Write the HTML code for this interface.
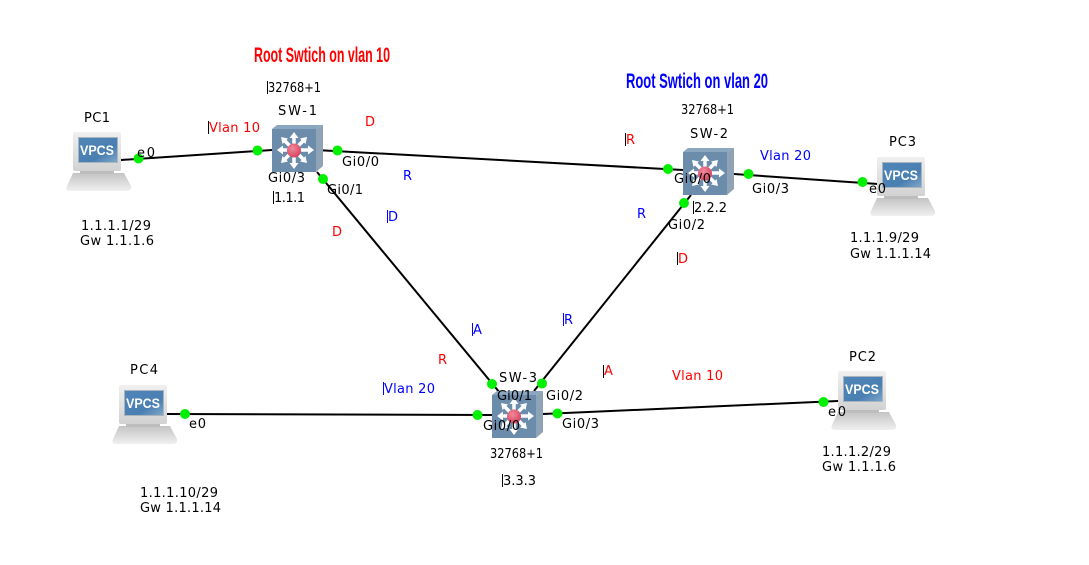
<!DOCTYPE html>
<html>
<head>
<meta charset="utf-8">
<style>
html,body{margin:0;padding:0;background:#fff;width:1089px;height:565px;overflow:hidden}
svg{display:block}
text{font-family:"DejaVu Sans",sans-serif;font-size:13px;fill:#000}
.r{fill:#f00}
.b{fill:#00f}
.t{font-family:"Liberation Sans",sans-serif;font-size:21px;font-weight:bold}
.v{font-family:"Liberation Sans",sans-serif;font-size:13.500px;font-weight:bold;fill:#fff}
.c{stroke:#000;stroke-width:1}
</style>
</head>
<body>
<svg width="1089" height="565" viewBox="0 0 1089 565" xmlns="http://www.w3.org/2000/svg">
<defs>
<linearGradient id="base" x1="0" y1="0" x2="0" y2="1"><stop offset="0" stop-color="#c4c4c4"/><stop offset="1" stop-color="#f0f0f0"/></linearGradient>
<linearGradient id="mon" x1="0" y1="0" x2="0" y2="1"><stop offset="0" stop-color="#f0f0f0"/><stop offset="1" stop-color="#d2d2d2"/></linearGradient>
<linearGradient id="scr" x1="0" y1="0" x2="1" y2="1"><stop offset="0" stop-color="#4f86b8"/><stop offset="0.65" stop-color="#4a7fb2"/><stop offset="1" stop-color="#7ea6c8"/></linearGradient>
<radialGradient id="ball" cx="0.4" cy="0.35" r="0.7"><stop offset="0" stop-color="#f08a9c"/><stop offset="1" stop-color="#d63f5c"/></radialGradient>
<g id="pc">
<path d="M73 173H124L131 186Q132 191 127 191H70Q65 191 67 186Z" fill="url(#base)"/>
<rect x="80" y="170" width="34" height="4" fill="#bdbdbd"/>
<rect x="73" y="132" width="48" height="39" rx="2" fill="url(#mon)"/>
<rect x="78" y="137" width="40" height="26" fill="#a9b4bf"/>
<rect x="79" y="138" width="38" height="24" fill="url(#scr)"/>
</g>
<g id="sw">
<path d="M0 4L5 0H51L44 4Z" fill="#8ba6c0"/>
<path d="M44 4L51 0V41L44 47Z" fill="#8fa3b6"/>
<rect x="0" y="4" width="44" height="43" fill="#6b8cab"/>
<g fill="none" stroke="#fff" stroke-width="3.500">
<path d="M22 11V41M9 25H36M12 15L32 35M32 15L12 35"/>
</g>
<g fill="#fff">
<path d="M22 7L26.500 13H17.500ZM22 44L17.500 38H26.500ZM5 25L11 20.500V29.500ZM42 25L36 29.500V20.500ZM9 12L16 13.500L10.500 19ZM35 12L33.500 19L28 13.500ZM9 38L10.500 31L16 36.500ZM35 38L28 36.500L33.500 31Z"/>
</g>
<circle cx="22" cy="25.500" r="7" fill="url(#ball)"/>
</g>
</defs>

<rect width="1089" height="565" fill="#fff"/>

<!-- links -->
<g stroke="#000" stroke-width="2" fill="none">
<line x1="121" y1="160" x2="272" y2="150"/>
<line x1="316" y1="150" x2="683" y2="170"/>
<line x1="734" y1="174" x2="878" y2="184"/>
<line x1="317" y1="172" x2="500" y2="393"/>
<line x1="691" y1="195" x2="534" y2="391"/>
<line x1="167" y1="414" x2="492" y2="415"/>
<line x1="543" y1="414" x2="838" y2="401"/>
</g>

<!-- switches -->
<use href="#sw" x="272" y="125"/>
<use href="#sw" x="683" y="148"/>
<use href="#sw" x="492" y="391"/>

<!-- PCs -->
<use href="#pc"/>
<text class="v" x="80" y="155" textLength="34" lengthAdjust="spacingAndGlyphs">VPCS</text>
<use href="#pc" x="804" y="25"/>
<text class="v" x="884" y="180" textLength="34" lengthAdjust="spacingAndGlyphs">VPCS</text>
<use href="#pc" x="765" y="239"/>
<text class="v" x="845" y="394" textLength="34" lengthAdjust="spacingAndGlyphs">VPCS</text>
<use href="#pc" x="46" y="253"/>
<text class="v" x="126" y="408" textLength="34" lengthAdjust="spacingAndGlyphs">VPCS</text>

<!-- status dots -->
<g fill="#00f000">
<circle cx="138.500" cy="158.500" r="5"/>
<circle cx="257.500" cy="150.500" r="5"/>
<circle cx="337.500" cy="150.500" r="5"/>
<circle cx="323" cy="179" r="5"/>
<circle cx="668" cy="169" r="5"/>
<circle cx="684" cy="203" r="5"/>
<circle cx="748.500" cy="174" r="5"/>
<circle cx="862.500" cy="182" r="5"/>
<circle cx="492" cy="384" r="5"/>
<circle cx="542" cy="383.500" r="5"/>
<circle cx="477.500" cy="415" r="5"/>
<circle cx="557.500" cy="413.500" r="5"/>
<circle cx="185" cy="414" r="5"/>
<circle cx="823.500" cy="402" r="5"/>
</g>

<!-- titles -->
<text class="t r" x="254" y="62" textLength="136" lengthAdjust="spacingAndGlyphs">Root Swtich on vlan 10</text>
<text class="t b" x="626" y="88" textLength="142" lengthAdjust="spacingAndGlyphs">Root Swtich on vlan 20</text>

<!-- device labels -->
<text x="84" y="122" textLength="26">PC1</text>
<text x="889" y="146" textLength="27">PC3</text>
<text x="849" y="361" textLength="27">PC2</text>
<text x="130" y="374" textLength="28">PC4</text>
<text x="278" y="115" textLength="39">SW-1</text>
<text x="690" y="138" textLength="38">SW-2</text>
<text x="499" y="382" textLength="38">SW-3</text>

<!-- port labels -->
<text x="137" y="157" textLength="18">e0</text>
<text x="342" y="166" textLength="37">Gi0/0</text>
<text x="268" y="182" textLength="37">Gi0/3</text>
<text x="327" y="194" textLength="36">Gi0/1</text>
<text x="674" y="183" textLength="37">Gi0/0</text>
<text x="752" y="193" textLength="37">Gi0/3</text>
<text x="869" y="193" textLength="17">e0</text>
<text x="668" y="229" textLength="37">Gi0/2</text>
<text x="497" y="400" textLength="35">Gi0/1</text>
<text x="546" y="400" textLength="37">Gi0/2</text>
<text x="483" y="430" textLength="37">Gi0/0</text>
<text x="562" y="428" textLength="37">Gi0/3</text>
<text x="828" y="416" textLength="18">e0</text>
<text x="189" y="428" textLength="17">e0</text>

<!-- priorities and ids -->
<line class="c" x1="267.500" y1="81" x2="267.500" y2="94"/>
<text x="268" y="92" textLength="53" lengthAdjust="spacingAndGlyphs">32768+1</text>
<text x="681" y="114" textLength="53" lengthAdjust="spacingAndGlyphs">32768+1</text>
<text x="490" y="458" textLength="53" lengthAdjust="spacingAndGlyphs">32768+1</text>
<line class="c" x1="273.500" y1="191" x2="273.500" y2="204"/>
<text x="274" y="202" textLength="31">1.1.1</text>
<line class="c" x1="693.500" y1="201" x2="693.500" y2="214"/>
<text x="694" y="212" textLength="33">2.2.2</text>
<line class="c" x1="502.500" y1="474" x2="502.500" y2="487"/>
<text x="503" y="485" textLength="33">3.3.3</text>

<!-- addresses -->
<text x="81" y="230" textLength="70">1.1.1.1/29</text>
<text x="80" y="245" textLength="74">Gw 1.1.1.6</text>
<text x="850" y="242" textLength="69">1.1.1.9/29</text>
<text x="850" y="258" textLength="81">Gw 1.1.1.14</text>
<text x="822" y="456" textLength="69">1.1.1.2/29</text>
<text x="822" y="471" textLength="74">Gw 1.1.1.6</text>
<text x="140" y="497" textLength="78">1.1.1.10/29</text>
<text x="140" y="512" textLength="81">Gw 1.1.1.14</text>

<!-- vlan labels -->
<line class="c" x1="208.500" y1="121" x2="208.500" y2="134"/>
<text class="r" x="209" y="132" textLength="51">Vlan 10</text>
<text class="b" x="760" y="160" textLength="51">Vlan 20</text>
<line class="c" x1="383.500" y1="382" x2="383.500" y2="395" style="stroke:#00f"/>
<text class="b" x="384" y="393" textLength="51">Vlan 20</text>
<text class="r" x="672" y="380" textLength="51">Vlan 10</text>

<!-- role letters -->
<text class="r" x="365" y="126">D</text>
<text class="b" x="403" y="180">R</text>
<line class="c" x1="387.500" y1="210" x2="387.500" y2="223" style="stroke:#00f"/>
<text class="b" x="388" y="221">D</text>
<text class="r" x="332" y="236">D</text>
<line class="c" x1="625.500" y1="133" x2="625.500" y2="146"/>
<text class="r" x="626" y="144">R</text>
<text class="b" x="637" y="218">R</text>
<line class="c" x1="677.500" y1="252" x2="677.500" y2="265"/>
<text class="r" x="678" y="263">D</text>
<line class="c" x1="472.500" y1="323" x2="472.500" y2="336" style="stroke:#00f"/>
<text class="b" x="473" y="334">A</text>
<line class="c" x1="563.500" y1="313" x2="563.500" y2="326" style="stroke:#00f"/>
<text class="b" x="564" y="324">R</text>
<text class="r" x="438" y="364">R</text>
<line class="c" x1="603.500" y1="365" x2="603.500" y2="378"/>
<text class="r" x="604" y="375">A</text>
</svg>
</body>
</html>
